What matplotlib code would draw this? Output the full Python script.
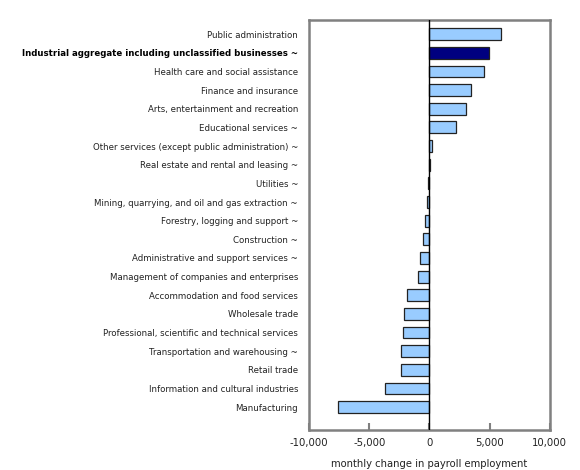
import matplotlib.pyplot as plt

categories = [
    "Public administration",
    "Industrial aggregate including unclassified businesses ~",
    "Health care and social assistance",
    "Finance and insurance",
    "Arts, entertainment and recreation",
    "Educational services ~",
    "Other services (except public administration) ~",
    "Real estate and rental and leasing ~",
    "Utilities ~",
    "Mining, quarrying, and oil and gas extraction ~",
    "Forestry, logging and support ~",
    "Construction ~",
    "Administrative and support services ~",
    "Management of companies and enterprises",
    "Accommodation and food services",
    "Wholesale trade",
    "Professional, scientific and technical services",
    "Transportation and warehousing ~",
    "Retail trade",
    "Information and cultural industries",
    "Manufacturing",
]
values = [5950, 4930, 4510, 3460, 3070, 2240, 170, 80, -130, -190, -410,
          -580, -800, -940, -1850, -2100, -2210, -2380, -2380, -3730, -7640]
highlight = "Industrial aggregate including unclassified businesses ~"
xticks = [-10000, -5000, 0, 5000, 10000]

fig = plt.figure(figsize=(5.8, 4.7), dpi=100)
ax = fig.add_axes([0.533, 0.085, 0.415, 0.872])

ypos = list(range(len(categories)))
colors = ["#000080" if c == highlight else "#99ccff" for c in categories]
ax.barh(ypos, values, height=0.64, color=colors, edgecolor="#222222", linewidth=0.9, zorder=2)
ax.axvline(0, color="black", linewidth=1, zorder=3)

ax.set_xlim(-10000, 10000)
ax.set_ylim(21.23, -0.75)
ax.set_yticks(ypos)
ax.set_yticklabels(categories, fontsize=6.2, color="#222222")
for lbl in ax.get_yticklabels():
    if lbl.get_text() == highlight:
        lbl.set_fontweight("bold")
        lbl.set_color("black")
ax.tick_params(axis="y", length=0, pad=8)

ax.set_xticks(xticks)
ax.set_xticklabels(["{:,}".format(v) for v in xticks], fontsize=7.3, color="#222222")
ax.tick_params(axis="x", direction="in", length=5, color="#808080", width=1.5, pad=6)
ax.set_xlabel("monthly change in payroll employment", fontsize=7.2, labelpad=8, color="#222222")

for s in ax.spines.values():
    s.set_color("#808080")
    s.set_linewidth(1.8)

fig.savefig("out.png", dpi=100)
